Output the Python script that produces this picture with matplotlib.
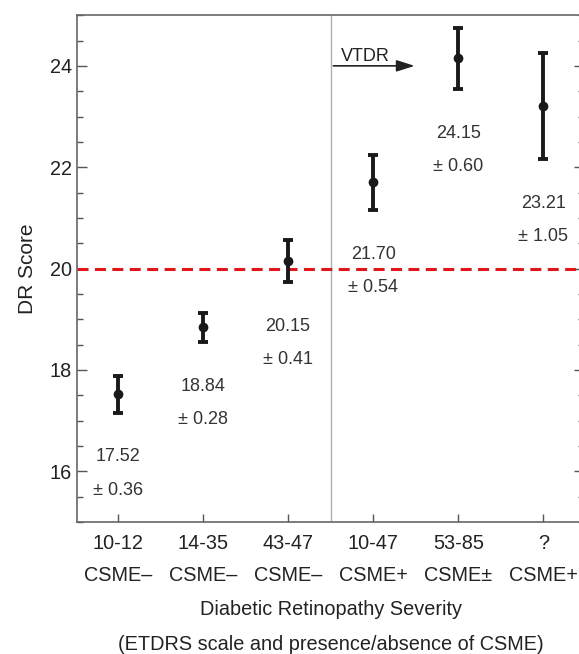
import matplotlib.pyplot as plt
from matplotlib.ticker import MultipleLocator

plt.rcParams['font.family'] = ['Liberation Sans', 'DejaVu Sans']

groups = ["10-12\nCSME\u2013", "14-35\nCSME\u2013", "43-47\nCSME\u2013",
          "10-47\nCSME+", "53-85\nCSME\u00b1", "?\nCSME+"]
means = [17.52, 18.84, 20.15, 21.70, 24.15, 23.21]
errs = [0.36, 0.28, 0.41, 0.54, 0.60, 1.05]
threshold = 20.0

fig = plt.figure(figsize=(5.79, 6.54), dpi=100)
ax = fig.add_axes([0.133, 0.2018, 0.876, 0.775])

xs = list(range(len(means)))
ax.errorbar(xs, means, yerr=errs, fmt='o', color='#1a1a1a', ms=6,
            elinewidth=2.8, capsize=3.8, capthick=2.8, zorder=3)

for x, m, e in zip(xs, means, errs):
    ax.annotate(f"{m:.2f}", (x, m - e), xytext=(0, -32), textcoords='offset points',
                ha='center', va='center', fontsize=13, color='#333333')
    ax.annotate(f"\u00b1 {e:.2f}", (x, m - e), xytext=(0, -56), textcoords='offset points',
                ha='center', va='center', fontsize=13, color='#333333')

ax.axhline(threshold, color='#e0161b', lw=2.2, ls=(0, (3.6, 2.1)), zorder=2)
ax.axvline(2.5, color='#b0b0b0', lw=1, zorder=1)

ax.annotate("", xy=(3.52, 24.0), xytext=(2.5, 24.0),
            arrowprops=dict(arrowstyle='-|>,head_length=1.1,head_width=0.35',
                            color='#222222', lw=1.2))
ax.text(2.62, 24.02, "VTDR", fontsize=13, color='#222222', ha='left', va='bottom')

ax.set_xlim(-0.48, 5.48)
ax.set_ylim(15, 25)
ax.set_xticks(xs)
ax.set_xticklabels(groups, linespacing=1.88)
ax.yaxis.set_major_locator(MultipleLocator(2))
ax.yaxis.set_minor_locator(MultipleLocator(0.5))
ax.tick_params(axis='both', which='both', direction='in', colors='#555555',
               labelcolor='#222222', labelsize=14.3, width=1)
ax.tick_params(axis='y', which='both', right=True)
ax.tick_params(axis='y', which='major', length=7)
ax.tick_params(axis='y', which='minor', length=4)
ax.tick_params(axis='x', which='major', length=6, pad=8.3)
for s in ax.spines.values():
    s.set_color('#666666')
    s.set_linewidth(1.2)

ax.set_ylabel("DR Score", fontsize=15, color='#222222', labelpad=9)
ax.set_xlabel("Diabetic Retinopathy Severity\n(ETDRS scale and presence/absence of CSME)",
              fontsize=14.3, color='#222222', linespacing=2.05, labelpad=10.8)

fig.savefig("out.png", dpi=100)
